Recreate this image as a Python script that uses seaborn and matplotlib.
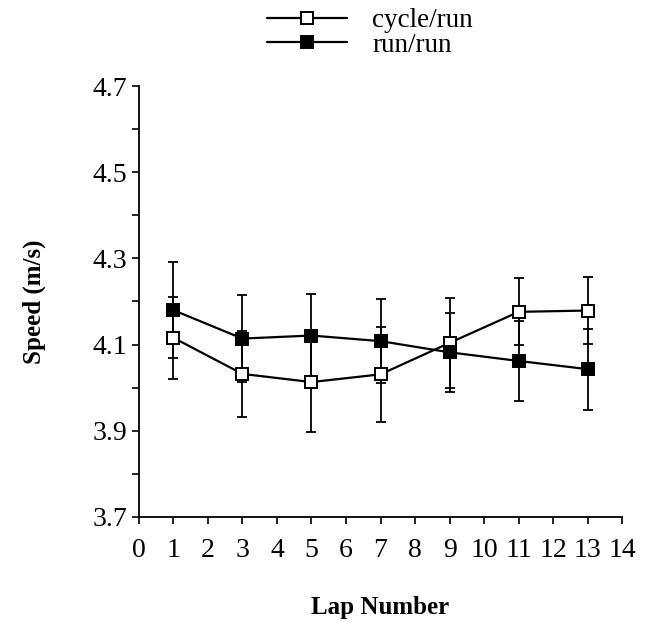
import numpy as np
import pandas as pd
import matplotlib
matplotlib.use("Agg")
import matplotlib.pyplot as plt
import seaborn as sns
from matplotlib.ticker import MultipleLocator

# lap-by-lap mean speed with SD
laps = [1, 3, 5, 7, 9, 11, 13]
cycle_run = [4.116, 4.032, 4.013, 4.031, 4.104, 4.176, 4.179]
cycle_run_sd = [0.095, 0.099, 0.115, 0.110, 0.104, 0.078, 0.078]
run_run = [4.180, 4.114, 4.121, 4.108, 4.082, 4.062, 4.043]
run_run_sd = [0.112, 0.100, 0.096, 0.097, 0.091, 0.092, 0.094]
x_ticks = list(range(0, 15))
y_ticks = [3.7, 3.9, 4.1, 4.3, 4.5, 4.7]

df = pd.DataFrame({
    "lap": laps * 2,
    "speed": cycle_run + run_run,
    "sd": cycle_run_sd + run_run_sd,
    "condition": ["cycle/run"] * len(laps) + ["run/run"] * len(laps),
})

sns.set_theme(style="ticks")
plt.rcParams["font.family"] = ["Liberation Serif", "DejaVu Serif"]
plt.rcParams["text.color"] = "black"
plt.rcParams["axes.labelcolor"] = "black"

fig = plt.figure(figsize=(6.67, 6.21), dpi=100)
ax = fig.add_axes([0.208, 0.1675, 0.725, 0.694])

# error bars first so markers sit on top
for cond, sub in df.groupby("condition"):
    ax.errorbar(sub["lap"], sub["speed"], yerr=sub["sd"], fmt="none",
                ecolor="black", elinewidth=1.3, capsize=3.5, capthick=1.3, zorder=2)

face = {"cycle/run": "white", "run/run": "black"}
for cond in ["cycle/run", "run/run"]:
    sub = df[df["condition"] == cond]
    sns.lineplot(data=sub, x="lap", y="speed", ax=ax, color="black", lw=1.6,
                 marker="s", markersize=8.5, markerfacecolor=face[cond],
                 markeredgecolor="black", markeredgewidth=1.4, label=cond,
                 zorder=3)

ax.set_xlim(0, 14)
ax.set_ylim(3.7, 4.7)
ax.set_xticks(x_ticks)
ax.set_yticks(y_ticks)
ax.set_yticklabels([f"{v:.1f}" for v in y_ticks])
ax.yaxis.set_minor_locator(MultipleLocator(0.1))
ax.tick_params(axis="both", which="both", direction="out", length=5, width=1.2,
               labelsize=20, colors="black", pad=3)
ax.tick_params(axis="x", pad=10)
for s in ["top", "right"]:
    ax.spines[s].set_visible(False)
for s in ["left", "bottom"]:
    ax.spines[s].set_linewidth(1.3)
    ax.spines[s].set_color("black")

ax.set_xlabel("Lap Number", fontsize=18, fontweight="bold", labelpad=24, color="black")
ax.set_ylabel("Speed (m/s)", fontsize=18, fontweight="bold", labelpad=34, color="black")

handles, labels = ax.get_legend_handles_labels()
ax.get_legend().remove()
fig.legend(handles, labels, loc="upper left", bbox_to_anchor=(0.40, 0.987),
           frameon=False, fontsize=19.5, handlelength=2.95, handletextpad=0.95,
           labelspacing=-0.02, borderaxespad=0, borderpad=0, labelcolor="black")

fig.savefig("out.png", dpi=100)
